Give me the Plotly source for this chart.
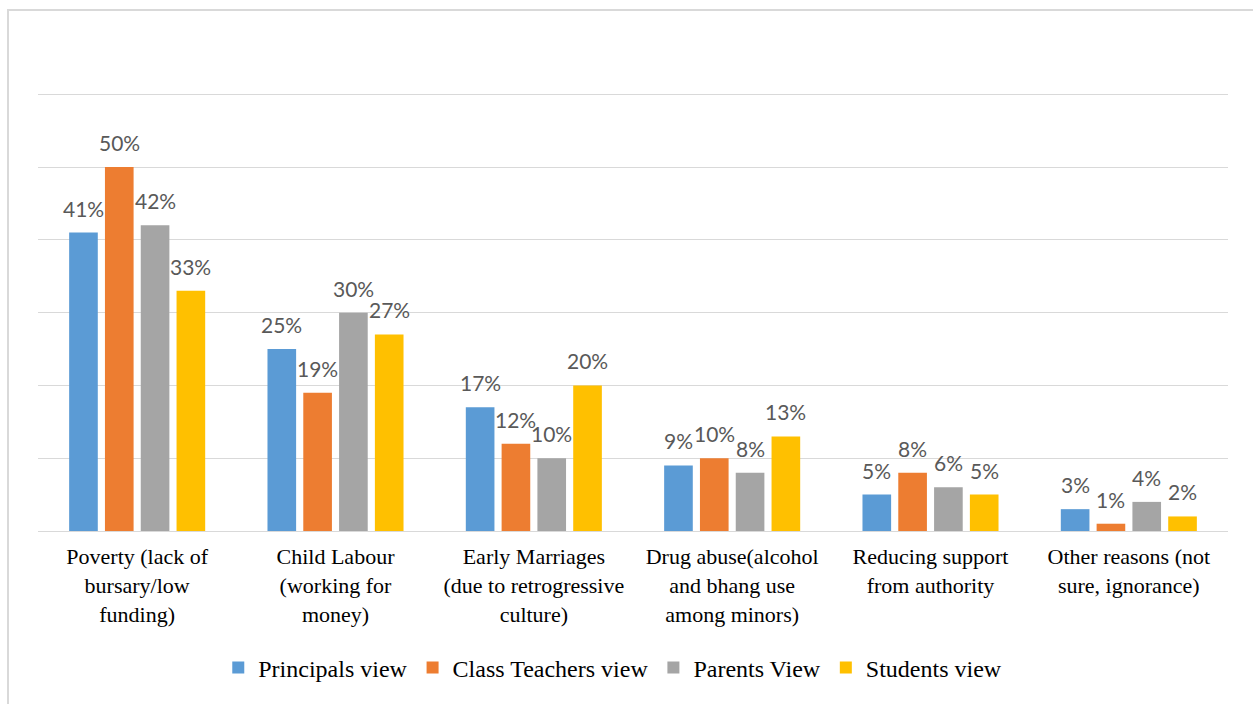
import plotly.graph_objects as go

categories = [
    "Poverty (lack of<br>bursary/low<br>funding)",
    "Child Labour<br>(working for<br>money)",
    "Early Marriages<br>(due to retrogressive<br>culture)",
    "Drug abuse(alcohol<br>and bhang use<br>among minors)",
    "Reducing support<br>from authority",
    "Other reasons (not<br>sure, ignorance)",
]
series_names = ["Principals view", "Class Teachers view", "Parents View", "Students view"]
principals = [41, 25, 17, 9, 5, 3]
class_teachers = [50, 19, 12, 10, 8, 1]
parents = [42, 30, 10, 8, 6, 4]
students = [33, 27, 20, 13, 5, 2]
colors = ["#5B9BD5", "#ED7D31", "#A5A5A5", "#FFC000"]
all_series = [principals, class_teachers, parents, students]

W, H = 1253, 704
ml, mr, mt, mb = 38, 25, 87, 173
pw, ph = W - ml - mr, H - mt - mb
bargap, bargroupgap = 0.278, 0.2
slot = pw / len(categories) * (1 - bargap) / len(all_series)

SERIF = "Liberation Serif"
SANS = "Lato"

fig = go.Figure()
annotations = []
for i, (name, vals, col) in enumerate(zip(series_names, all_series, colors)):
    fig.add_trace(go.Bar(x=categories, y=vals, name=name, marker_color=col,
                         marker_line_width=0))
    for cat, v in zip(categories, vals):
        annotations.append(dict(
            x=cat, y=v, xref="x", yref="y", text=f"{v}%", showarrow=False,
            xanchor="center", yanchor="bottom",
            xshift=(i - (len(all_series) - 1) / 2) * slot, yshift=10,
            font=dict(family=SANS, size=21, color="#595959"),
        ))

fig.update_layout(
    width=W, height=H,
    margin=dict(l=ml, r=mr, t=mt, b=mb),
    paper_bgcolor="white", plot_bgcolor="white",
    barmode="group", bargap=bargap, bargroupgap=bargroupgap,
    showlegend=True,
    legend=dict(orientation="h", x=0.483, xanchor="center", y=(531 - 668) / ph, yanchor="middle",
                font=dict(family=SERIF, size=24, color="black"),
                traceorder="normal"),
    xaxis=dict(showgrid=False, showline=True, linecolor="#D9D9D9", linewidth=1, ticks="",
               ticklabelstandoff=6,
               tickfont=dict(family=SERIF, size=22, color="black")),
    yaxis=dict(range=[0, 61], dtick=10, showgrid=True, gridcolor="#D9D9D9", gridwidth=1,
               showticklabels=False, zeroline=False, showline=False),
    annotations=annotations,
    shapes=[dict(type="rect", xref="paper", yref="paper",
                 x0=(8 - ml) / pw, x1=(W + 5 - ml) / pw,
                 y0=-(H + 5 - 531) / ph, y1=(531 - 10) / ph,
                 line=dict(color="#D9D9D9", width=2), fillcolor="rgba(0,0,0,0)", layer="below")],
)

fig.write_html("out.html", config={"displayModeBar": False},
               post_script="document.body.style.margin='0';document.body.style.overflow='hidden';")
